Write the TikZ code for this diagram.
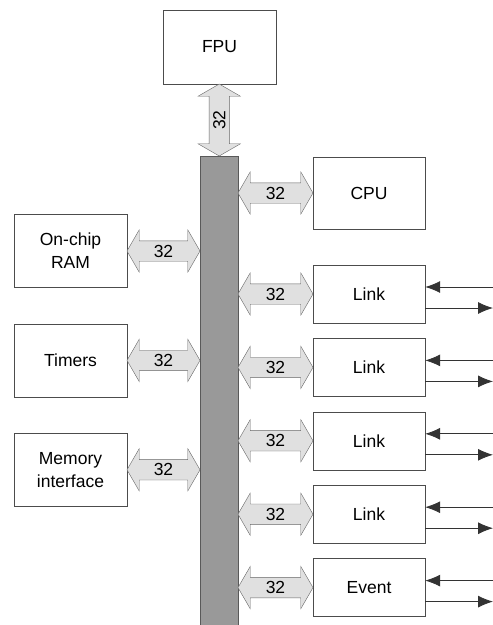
\documentclass[tikz,border=0pt]{standalone}
\usepackage{fontspec}
\setmainfont{Liberation Sans}
\usetikzlibrary{positioning,shapes.arrows,arrows.meta,calc}

\begin{document}
\begin{tikzpicture}[
      x=1pt, y=-1pt,
      font=\fontsize{17.5}{23}\selectfont,
      unit/.style={draw=black!70, fill=white, minimum width=112pt,
                   minimum height=58pt, align=center, inner sep=0pt},
      bus/.style={draw=black!65, fill=black!40, minimum width=38pt,
                  minimum height=469pt, inner sep=0pt},
      wide/.style={double arrow, draw=black!60, fill=black!12,
                   double arrow head extend=11pt, double arrow tip angle=120,
                   inner xsep=2pt, inner ysep=3.8pt},
      sig/.style={-{Latex[length=15pt,width=12pt]}, black!80, line width=0.8pt},
    ]
    \useasboundingbox (0,0) rectangle (493,625);

    % shared bus and the FPU on top of it
    \node[bus] (bus) at (219,390.5) {};
    \node[unit, minimum width=113pt, minimum height=74pt] (fpu) at (219.5,47) {FPU};

    % units on the right of the bus
    \node[unit, minimum height=72pt] (cpu) at (369,193) {CPU};
    \node[unit] (link1) at (369,294) {Link};
    \node[unit, below=15pt of link1] (link2) {Link};
    \node[unit, below=15pt of link2] (link3) {Link};
    \node[unit, below=15pt of link3] (link4) {Link};
    \node[unit, below=15pt of link4] (event) {Event};

    % units on the left of the bus
    \node[unit, minimum width=113pt, minimum height=73pt] (ram) at (70.5,251) {On-chip\\RAM};
    \node[unit, minimum width=113pt, minimum height=73pt, below=36pt of ram] (timers) {Timers};
    \node[unit, minimum width=113pt, minimum height=73pt, below=36pt of timers] (mem) {Memory\\interface};

    % 32-bit paths to the bus
    \node[wide, rotate=90, minimum height=72pt] (w-fpu) at ($(fpu.south)!.5!(bus.north)$) {32};
    \foreach \n in {ram,timers,mem}
      \node[wide, minimum height=73pt] (w-\n) at ($(\n.east)!.5!(\n.east -| bus.west)$) {32};
    \foreach \n in {cpu,link1,link2,link3,link4,event}
      \node[wide, minimum height=75pt] (w-\n) at ($(\n.west)!.5!(\n.west -| bus.east)$) {32};

    % serial lines leaving the picture
    \coordinate (edge) at (493,0);
    \foreach \n in {link1,link2,link3,link4,event} {
      \draw[sig] ($(\n.east -| edge)+(0,-7)$) -- ($(\n.east)+(0,-7)$);
      \draw[sig] ($(\n.east)+(0,14)$) -- ($(\n.east -| edge)+(0,14)$);
    }
  \end{tikzpicture}
\end{document}
